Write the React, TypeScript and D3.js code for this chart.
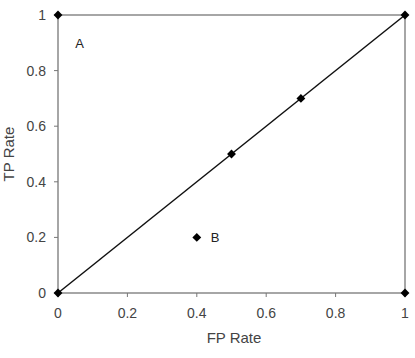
import React from "react";
import * as d3 from "d3";

const ticks = [0, 0.2, 0.4, 0.6, 0.8, 1];
const pointsFP = [0, 0, 1, 1, 0.5, 0.7, 0.4];
const pointsTP = [0, 1, 1, 0, 0.5, 0.7, 0.2];
const diagonalFP = [0, 1];
const diagonalTP = [0, 1];
const labelNames = ["A", "B"];
const labelFP = [0.05, 0.4];
const labelTP = [0.9, 0.2];

const W = 415;
const H = 358;
const m = { left: 58, right: 10, top: 15, bottom: 65 };

export default function App() {
  const x = d3.scaleLinear().domain([0, 1]).range([m.left, W - m.right]);
  const y = d3.scaleLinear().domain([0, 1]).range([H - m.bottom, m.top]);
  const font = "'Liberation Sans', Arial, sans-serif";
  const axisColor = "#777";

  const line = d3
    .line<number>()
    .x((d) => x(diagonalFP[d]))
    .y((d) => y(diagonalTP[d]));

  const diamond = d3.symbol().type(d3.symbolDiamond2).size(50)();

  return (
    <svg
      width={W}
      height={H}
      style={{ position: "absolute", left: 0, top: 0, background: "#fff" }}
      fontFamily={font}
    >
      {/* frame */}
      <rect
        x={x(0)}
        y={y(1)}
        width={x(1) - x(0)}
        height={y(0) - y(1)}
        fill="none"
        stroke={axisColor}
        strokeWidth={1.3}
      />
      {ticks.map((t) => (
        <g key={`x-${t}`}>
          <line x1={x(t)} x2={x(t)} y1={y(0)} y2={y(0) + 4} stroke={axisColor} />
          <text x={x(t)} y={y(0) + 25} textAnchor="middle" fontSize={14} fill="#444">
            {t}
          </text>
        </g>
      ))}
      {ticks.map((t) => (
        <g key={`y-${t}`}>
          <line x1={x(0) - 4} x2={x(0)} y1={y(t)} y2={y(t)} stroke={axisColor} />
          <text x={x(0) - 12} y={y(t) + 5} textAnchor="end" fontSize={14} fill="#444">
            {t}
          </text>
        </g>
      ))}
      <path d={line([0, 1]) || undefined} stroke="#111" strokeWidth={1.5} fill="none" />
      {pointsFP.map((fp, i) => (
        <path
          key={`p-${i}`}
          d={diamond || undefined}
          transform={`translate(${x(fp)},${y(pointsTP[i])})`}
          fill="#000"
        />
      ))}
      {labelNames.map((n, i) => (
        <text
          key={n}
          x={x(labelFP[i]) + (i === 1 ? 14 : 0)}
          y={y(labelTP[i]) + 5}
          fontSize={13}
          fill="#222"
        >
          {n}
        </text>
      ))}
      <text x={234} y={343} textAnchor="middle" fontSize={15} fill="#444">
        FP Rate
      </text>
      <text
        transform={`translate(14,${(y(0) + y(1)) / 2}) rotate(-90)`}
        textAnchor="middle"
        fontSize={15}
        fill="#444"
      >
        TP Rate
      </text>
    </svg>
  );
}
